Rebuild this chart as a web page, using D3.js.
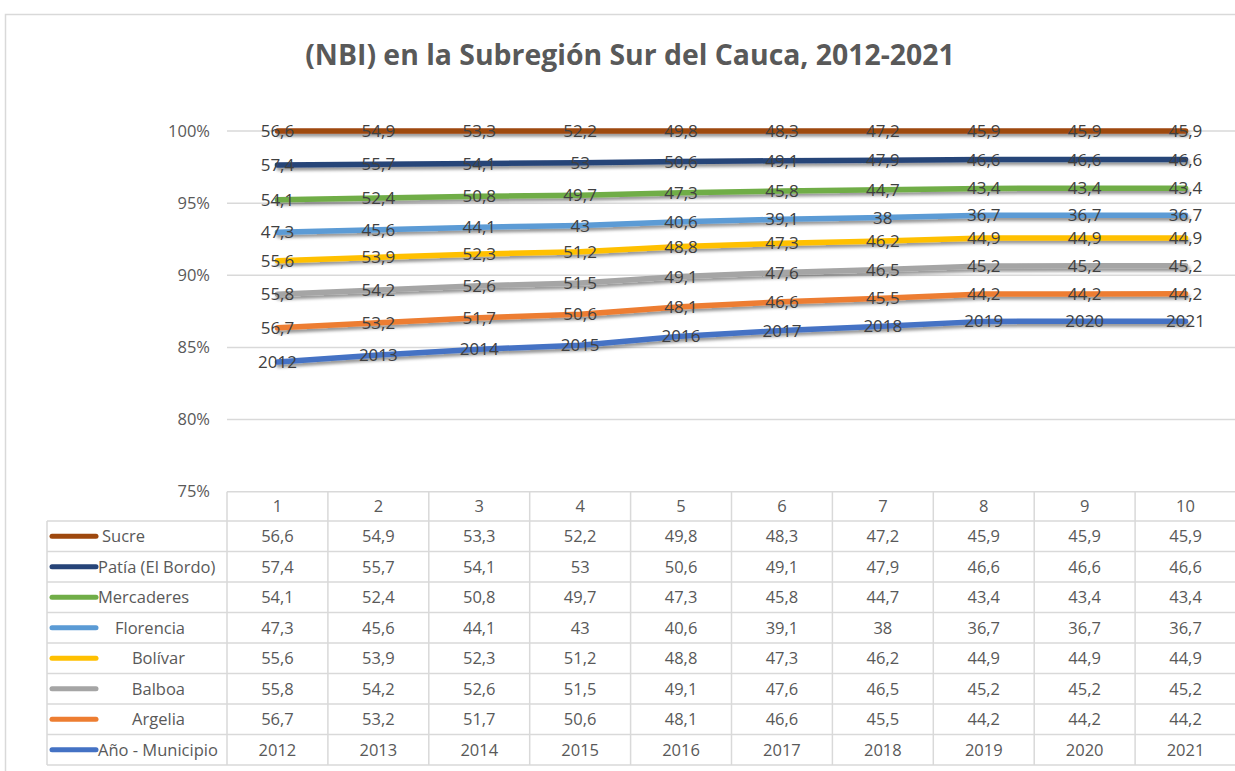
<!DOCTYPE html>
<html>
<head>
<meta charset="utf-8">
<script src="https://cdn.jsdelivr.net/npm/d3@7"></script>
<style>
  body { margin: 0; background: #fff; }
  svg { display: block; font-family: "Open Sans", sans-serif; }
</style>
</head>
<body>
<script>
var columns = ["1", "2", "3", "4", "5", "6", "7", "8", "9", "10"];
var anio = [2012, 2013, 2014, 2015, 2016, 2017, 2018, 2019, 2020, 2021];
var argelia = [56.7, 53.2, 51.7, 50.6, 48.1, 46.6, 45.5, 44.2, 44.2, 44.2];
var balboa = [55.8, 54.2, 52.6, 51.5, 49.1, 47.6, 46.5, 45.2, 45.2, 45.2];
var bolivar = [55.6, 53.9, 52.3, 51.2, 48.8, 47.3, 46.2, 44.9, 44.9, 44.9];
var florencia = [47.3, 45.6, 44.1, 43, 40.6, 39.1, 38, 36.7, 36.7, 36.7];
var mercaderes = [54.1, 52.4, 50.8, 49.7, 47.3, 45.8, 44.7, 43.4, 43.4, 43.4];
var patia = [57.4, 55.7, 54.1, 53, 50.6, 49.1, 47.9, 46.6, 46.6, 46.6];
var sucre = [56.6, 54.9, 53.3, 52.2, 49.8, 48.3, 47.2, 45.9, 45.9, 45.9];

// stacking order, bottom to top
var seriesNames = ["Año - Municipio", "Argelia", "Balboa", "Bolívar", "Florencia", "Mercaderes", "Patía (El Bordo)", "Sucre"];
var seriesValues = [anio, argelia, balboa, bolivar, florencia, mercaderes, patia, sucre];
var yTicks = [0.75, 0.80, 0.85, 0.90, 0.95, 1.00];
var title = "(NBI) en la Subregión Sur del Cauca, 2012-2021";

function init() {
    var w = 1235, h = 771;
    var colors = ["#4472C4", "#ED7D31", "#A5A5A5", "#FFC000", "#5B9BD5", "#70AD47", "#264478", "#9E480E"];
    var grid = "#d9d9d9";

    var svg = d3.select("body").append("svg")
        .attr("width", w)
        .attr("height", h);

    // drop shadow like Excel's line effect (user space, so flat lines keep it)
    var f = svg.append("defs").append("filter")
        .attr("id", "shadow")
        .attr("filterUnits", "userSpaceOnUse")
        .attr("x", 0).attr("y", 0)
        .attr("width", w).attr("height", h);
    f.append("feDropShadow")
        .attr("dx", 1.5).attr("dy", 3)
        .attr("stdDeviation", 1.6)
        .attr("flood-color", "#000")
        .attr("flood-opacity", 0.4);

    // outer chart border
    svg.append("path")
        .attr("d", "M5.5," + h + "V14.5H" + w)
        .attr("fill", "none")
        .attr("stroke", grid)
        .attr("stroke-width", 1.5);

    var t = svg.append("text")
        .attr("x", 630)
        .attr("y", 65)
        .attr("text-anchor", "middle")
        .attr("font-size", 26)
        .attr("font-weight", "bold")
        .attr("fill", "#595959")
        .text(title);
    // fit title to the reference width
    var tl = t.node().getComputedTextLength();
    t.attr("font-size", 26 * 650 / tl);

    var x = d3.scaleBand()
        .domain(columns)
        .range([227, 1236]);
    var bw = x.bandwidth();

    var y = d3.scaleLinear()
        .domain([0.75, 1])
        .range([491.7, 131]);

    // build table rows for d3.stack
    var table = columns.map(function (c, i) {
        var row = { col: c };
        seriesNames.forEach(function (s, j) { row[s] = seriesValues[j][i]; });
        return row;
    });

    var stacked = d3.stack()
        .keys(seriesNames)
        .offset(d3.stackOffsetExpand)(table);

    // gridlines and y labels
    svg.selectAll("line.grid")
        .data(yTicks.slice(1))
        .enter().append("line")
        .attr("class", "grid")
        .attr("x1", 227).attr("x2", w)
        .attr("y1", function (d) { return y(d); })
        .attr("y2", function (d) { return y(d); })
        .attr("stroke", grid)
        .attr("stroke-width", 1.5);

    svg.selectAll("text.ytick")
        .data(yTicks)
        .enter().append("text")
        .attr("class", "ytick")
        .attr("x", 210)
        .attr("y", function (d) { return y(d); })
        .attr("dy", "0.35em")
        .attr("text-anchor", "end")
        .attr("font-size", 16.5)
        .attr("fill", "#595959")
        .text(d3.format(".0%"));

    var line = d3.line()
        .x(function (d) { return x(d.data.col) + bw / 2; })
        .y(function (d) { return y(d[1]); });

    svg.selectAll("path.series")
        .data(stacked)
        .enter().append("path")
        .attr("class", "series")
        .attr("d", line)
        .attr("fill", "none")
        .attr("stroke", function (d, i) { return colors[i]; })
        .attr("stroke-width", 5.5)
        .attr("stroke-linecap", "round")
        .attr("stroke-linejoin", "round")
        .attr("filter", "url(#shadow)");

    var fmt = function (v) { return String(v).replace(".", ","); };

    // data labels centred on each point
    stacked.forEach(function (s) {
        svg.selectAll(null)
            .data(s)
            .enter().append("text")
            .attr("x", function (d) { return x(d.data.col) + bw / 2; })
            .attr("y", function (d) { return y(d[1]); })
            .attr("dy", "0.36em")
            .attr("text-anchor", "middle")
            .attr("font-size", 17)
            .attr("fill", "#404040")
            .text(function (d) { return fmt(d.data[s.key]); });
    });

    // data table below the plot
    var tTop = 491.7, hdrH = 29.3, rowH = 30.5, legLeft = 47, x0 = 227, x1 = 1236;
    var rows = seriesNames.slice().reverse();
    var rowY = function (i) { return tTop + hdrH + i * rowH; };
    var tBottom = rowY(rows.length);
    var g = svg.append("g").attr("stroke", grid).attr("stroke-width", 1.5);

    g.append("line").attr("x1", x0).attr("x2", x1).attr("y1", tTop).attr("y2", tTop);
    d3.range(rows.length + 1).forEach(function (i) {
        g.append("line").attr("x1", legLeft).attr("x2", x1).attr("y1", rowY(i)).attr("y2", rowY(i));
    });
    g.append("line").attr("x1", legLeft).attr("x2", legLeft).attr("y1", rowY(0)).attr("y2", tBottom);
    d3.range(columns.length + 1).forEach(function (i) {
        var xx = x0 + i * bw;
        g.append("line").attr("x1", xx).attr("x2", xx).attr("y1", tTop).attr("y2", tBottom);
    });

    svg.selectAll("text.hdr")
        .data(columns)
        .enter().append("text")
        .attr("class", "hdr")
        .attr("x", function (d) { return x(d) + bw / 2; })
        .attr("y", tTop + hdrH / 2)
        .attr("dy", "0.36em")
        .attr("text-anchor", "middle")
        .attr("font-size", 16.5)
        .attr("fill", "#595959")
        .text(function (d) { return d; });

    var rightAligned = { "Florencia": 1, "Bolívar": 1, "Balboa": 1, "Argelia": 1 };

    rows.forEach(function (name, r) {
        var j = seriesNames.indexOf(name);
        var cy = rowY(r) + rowH / 2;

        svg.append("line")
            .attr("x1", 52).attr("x2", 96)
            .attr("y1", cy).attr("y2", cy)
            .attr("stroke", colors[j])
            .attr("stroke-width", 5)
            .attr("stroke-linecap", "round");

        svg.append("text")
            .attr("x", rightAligned[name] ? 185 : (name === "Sucre" ? 102 : 98))
            .attr("y", cy)
            .attr("dy", "0.36em")
            .attr("text-anchor", rightAligned[name] ? "end" : "start")
            .attr("font-size", 16.5)
            .attr("fill", "#595959")
            .text(name);

        svg.selectAll(null)
            .data(seriesValues[j])
            .enter().append("text")
            .attr("x", function (d, i) { return x(columns[i]) + bw / 2; })
            .attr("y", cy)
            .attr("dy", "0.36em")
            .attr("text-anchor", "middle")
            .attr("font-size", 16.5)
            .attr("fill", "#595959")
            .text(fmt);
    });
}
window.onload = init;
</script>
</body>
</html>
